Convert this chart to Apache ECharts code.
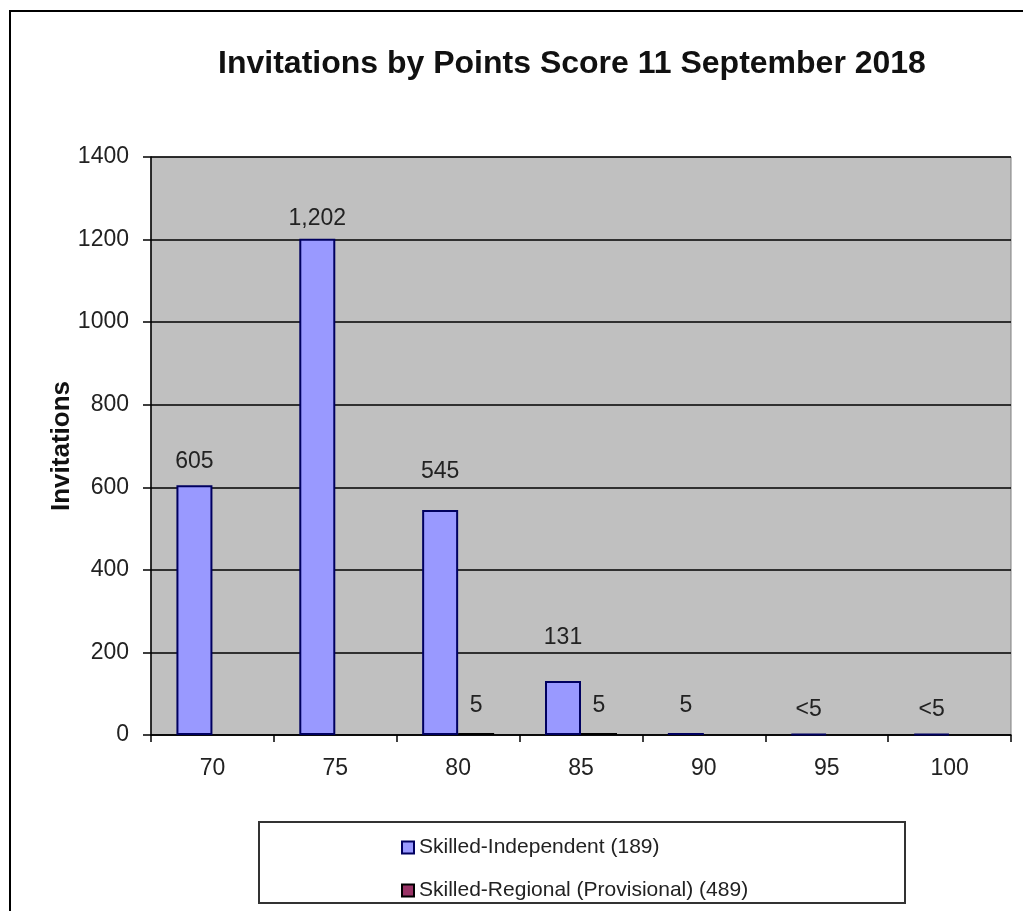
<!DOCTYPE html>
<html>
<head>
<meta charset="utf-8">
<script src="https://cdn.jsdelivr.net/npm/echarts@6/dist/echarts.min.js"></script>
<style>html,body{margin:0;padding:0;background:#fff;}#c{width:1023px;height:911px;}</style>
</head>
<body>
<div id="c"></div>
<script>
const categories = ['70', '75', '80', '85', '90', '95', '100'];
const independentValues = [605, 1202, 545, 131, 5, 3, 3];
const independentLabels = ['605', '1,202', '545', '131', '5', '<5', '<5'];
const regionalValues = [null, null, 5, 5, null, null, null];
const regionalLabels = ['', '', '5', '5', '', '', ''];
const yTicks = { min: 0, max: 1400, interval: 200 };
const seriesNames = ['Skilled-Independent (189)', 'Skilled-Regional (Provisional) (489)'];
const titleText = 'Invitations by Points Score 11 September 2018';
const yAxisName = 'Invitations';

// label placement (style only, mirrors the reference's label offsets)
const independentLabelGap = [12, 9, 27, 32, 16, 12, 12];
const regionalLabelGap = [16, 16, 16, 16, 16, 16, 16];

const FONT = 'Liberation Sans, Arial, sans-serif';
const chart = echarts.init(document.getElementById('c'), null, { renderer: 'canvas' });
const labelStyle = { show: true, position: 'top', fontSize: 23, color: '#222', fontFamily: FONT };

function buildData(values, gaps) {
  return values.map((v, i) => ({ value: v, label: { distance: gaps[i] } }));
}

chart.setOption({
  animation: false,
  backgroundColor: '#ffffff',
  title: {
    text: titleText,
    left: 567, top: 43, textAlign: 'center',
    textStyle: { fontSize: 32, fontWeight: 'bold', color: '#111', fontFamily: FONT }
  },
  grid: {
    left: 151, right: 12, top: 157, bottom: 176,
    show: true, backgroundColor: '#c0c0c0', borderColor: '#808080', borderWidth: 1
  },
  legend: {
    orient: 'vertical', left: 396, top: 832,
    itemWidth: 12, itemHeight: 12, itemGap: 22,
    icon: 'rect',
    textStyle: { fontSize: 21, color: '#222', fontFamily: FONT },
    data: seriesNames
  },
  xAxis: {
    type: 'category', data: categories,
    axisLine: { lineStyle: { color: '#000', width: 1.5 } },
    axisTick: { show: true, length: 7, alignWithLabel: false, lineStyle: { color: '#000', width: 1.5 } },
    axisLabel: { fontSize: 23, color: '#222', margin: 22, fontFamily: FONT }
  },
  yAxis: {
    type: 'value', min: yTicks.min, max: yTicks.max, interval: yTicks.interval,
    name: yAxisName, nameLocation: 'middle', nameGap: 76, nameRotate: 90, nameMoveOverlap: false,
    nameTextStyle: { fontSize: 26, fontWeight: 'bold', color: '#111', fontFamily: FONT },
    axisLine: { show: true, lineStyle: { color: '#000', width: 1.5 } },
    axisTick: { show: true, length: 8, lineStyle: { color: '#000', width: 1.5 } },
    axisLabel: { fontSize: 23, color: '#222', margin: 22, fontFamily: FONT, formatter: v => String(v) },
    splitLine: { show: true, lineStyle: { color: '#000', width: 1.5 } }
  },
  series: [
    {
      name: seriesNames[0], type: 'bar', data: buildData(independentValues, independentLabelGap),
      barWidth: 36, barGap: '0%',
      itemStyle: { color: '#9999ff', borderColor: '#000060', borderWidth: 2 },
      label: Object.assign({}, labelStyle, { formatter: p => independentLabels[p.dataIndex] })
    },
    {
      name: seriesNames[1], type: 'bar', data: buildData(regionalValues, regionalLabelGap),
      barWidth: 36, barGap: '0%',
      itemStyle: { color: '#993366', borderColor: '#000', borderWidth: 2 },
      label: Object.assign({}, labelStyle, { formatter: p => regionalLabels[p.dataIndex] })
    }
  ],
  graphic: [
    { type: 'rect', z: -1, shape: { x: 10, y: 11, width: 1030, height: 920 }, style: { fill: null, stroke: '#000', lineWidth: 2 } },
    { type: 'rect', z: -1, shape: { x: 259, y: 822, width: 646, height: 81 }, style: { fill: null, stroke: '#333', lineWidth: 2 } }
  ]
});
</script>
</body>
</html>
